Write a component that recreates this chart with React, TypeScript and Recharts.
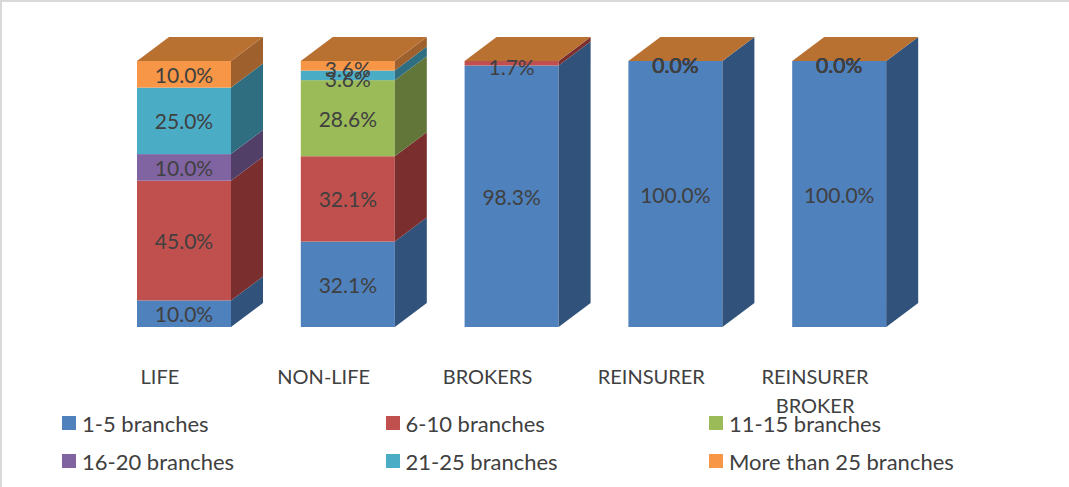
import { BarChart, Bar, XAxis, YAxis, LabelList, Legend } from "recharts";

const categories = ["LIFE", "NON-LIFE", "BROKERS", "REINSURER", "REINSURER BROKER"];
const seriesNames = [
  "1-5 branches",
  "6-10 branches",
  "11-15 branches",
  "16-20 branches",
  "21-25 branches",
  "More than 25 branches",
];
const branches1to5 = [10.0, 32.1, 98.3, 100.0, 100.0];
const branches6to10 = [45.0, 32.1, 1.7, 0, 0];
const branches11to15 = [0, 28.6, 0, 0, 0];
const branches16to20 = [10.0, 0, 0, 0, 0];
const branches21to25 = [25.0, 3.6, 0, 0, 0];
const branchesOver25 = [10.0, 3.6, 0, 0, 0];
const seriesValues = [
  branches1to5,
  branches6to10,
  branches11to15,
  branches16to20,
  branches21to25,
  branchesOver25,
];
// zero labels only show on these columns in the original
const zeroLabelCategories = ["REINSURER", "REINSURER BROKER"];

const frontColors = ["#4F81BD", "#C0504D", "#9BBB59", "#8064A2", "#4BACC6", "#F79646"];
const sideColors = ["#31527A", "#7A2F2E", "#63763A", "#523F68", "#2F6E80", "#9E602C"];
const topColor = "#B97132";
const textColor = "#404040";
const fontFamily = "Lato, 'Open Sans', sans-serif";

const DEPTH_X = 32;
const DEPTH_Y = 24;

const data = categories.map((name, i) => {
  const row: Record<string, string | number> = { name };
  seriesNames.forEach((s, k) => {
    row[s] = seriesValues[k][i];
  });
  return row;
});

function Bar3D({ x, y, width, height, front, side, top }: any) {
  const right = x + width;
  return (
    <g>
      {height > 0 && <rect x={x} y={y} width={width} height={height} fill={front} />}
      {height > 0 && (
        <polygon
          points={`${right},${y} ${right + DEPTH_X},${y - DEPTH_Y} ${right + DEPTH_X},${y + height - DEPTH_Y} ${right},${y + height}`}
          fill={side}
        />
      )}
      {top && (
        <polygon
          points={`${x},${y} ${x + DEPTH_X},${y - DEPTH_Y} ${right + DEPTH_X},${y - DEPTH_Y} ${right},${y}`}
          fill={topColor}
        />
      )}
    </g>
  );
}

function ValueLabel({ x, y, width, height, value, index }: any) {
  if (value === 0 && !zeroLabelCategories.includes(categories[index])) return null;
  const nudge = height < 12 ? 3 : 0;
  return (
    <text
      x={x + width / 2}
      y={y + height / 2 + nudge}
      textAnchor="middle"
      dominantBaseline="central"
      fontSize={21}
      fontFamily={fontFamily}
      fill={textColor}
    >
      {Number(value).toFixed(1)}%
    </text>
  );
}

function CategoryTick({ x, payload }: any) {
  const words = String(payload.value).split(" ");
  return (
    <g>
      {words.map((w, i) => (
        <text
          key={w}
          x={x - 24}
          y={376 + i * 29}
          textAnchor="middle"
          dominantBaseline="central"
          fontSize={20}
          fontFamily={fontFamily}
          fill={textColor}
        >
          {w}
        </text>
      ))}
    </g>
  );
}

function LegendGrid() {
  return (
    <div
      style={{
        display: "grid",
        gridTemplateColumns: "323.5px 323.5px 340px",
        gridAutoRows: "38px",
        fontFamily,
        fontSize: 22,
        color: textColor,
      }}
    >
      {seriesNames.map((s, i) => (
        <div key={s} style={{ display: "flex", alignItems: "center" }}>
          <span style={{ width: 14, height: 14, background: frontColors[i], marginRight: 6 }} />
          {s}
        </div>
      ))}
    </div>
  );
}

export default function App() {
  return (
    <div
      style={{
        position: "absolute",
        left: 0,
        top: 0,
        width: 1069,
        height: 487,
        background: "#fff",
        overflow: "hidden",
      }}
    >
      <BarChart
        width={1069}
        height={487}
        data={data}
        margin={{ top: 61, right: 148, left: 102, bottom: 54 }}
        barSize={94}
      >
        <XAxis dataKey="name" interval={0} axisLine={false} tickLine={false} tick={<CategoryTick />} />
        <YAxis hide domain={[0, 100]} />
        <Legend
          content={<LegendGrid />}
          wrapperStyle={{ left: 62, top: 404, width: 1000, bottom: "auto" }}
        />
        {seriesNames.map((s, k) => (
          <Bar
            key={s}
            dataKey={s}
            stackId="a"
            isAnimationActive={false}
            fill={frontColors[k]}
            shape={(props: any) => (
              <Bar3D
                {...props}
                front={frontColors[k]}
                side={sideColors[k]}
                top={k === seriesNames.length - 1}
              />
            )}
          >
            <LabelList dataKey={s} content={<ValueLabel />} />
          </Bar>
        ))}
      </BarChart>
      {/* grey frame edge on the top and left of the picture */}
      <div
        style={{
          position: "absolute",
          left: 0,
          top: 0,
          width: 1069,
          height: 487,
          boxSizing: "border-box",
          borderTop: "2px solid #d9d9d9",
          borderLeft: "2px solid #d9d9d9",
          pointerEvents: "none",
        }}
      />
    </div>
  );
}
